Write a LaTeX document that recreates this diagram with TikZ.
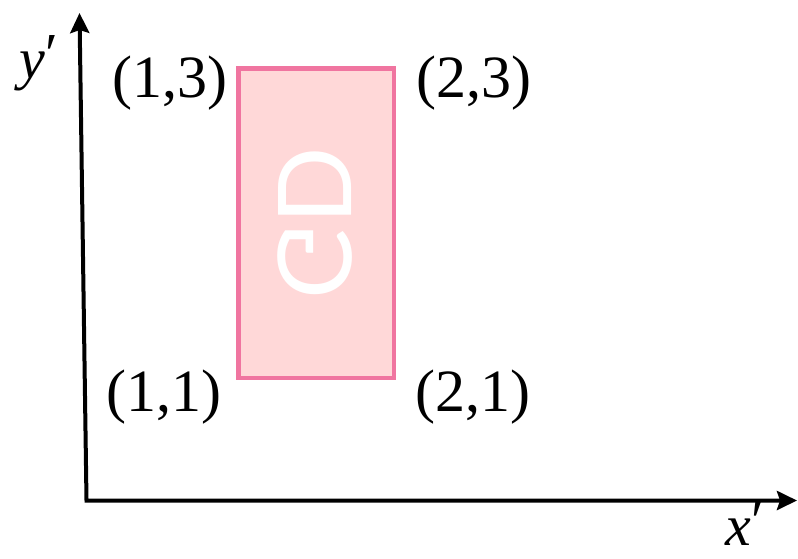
\documentclass[tikz,border=0pt]{standalone}
\usepackage{fontspec}
\setmainfont{Liberation Serif}
\newfontfamily\gdfont{Lato}
\usetikzlibrary{arrows.meta}
\definecolor{rectedge}{RGB}{240,117,160}
\definecolor{rectfill}{RGB}{255,216,216}
\tikzset{
  axisline/.style={line width=4pt, line join=miter,
    {Stealth[length=20pt, width=19pt, inset=3pt]}-{Stealth[length=20pt, width=19pt, inset=3pt]}},
  corner/.style={font=\fontsize{60}{62}\selectfont, inner sep=0pt, anchor=base},
  axislabel/.style={font=\fontsize{58}{60}\selectfont\itshape, inner sep=0pt, anchor=base},
  rectbox/.style={draw=rectedge, fill=rectfill, line width=4.5pt, inner sep=0pt,
    minimum width=155.5pt, minimum height=309.5pt},
  gdtext/.style={font=\gdfont\fontsize{102}{102}\selectfont, text=white, inner sep=0pt}
}
\begin{document}
\begin{tikzpicture}[x=1pt, y=-1pt]
\useasboundingbox (0,0) rectangle (798,558);
\coordinate (O) at (86.5,500.5);
\coordinate (Y) at (79.5,13);
\coordinate (X) at (797,500.5);
\draw[axisline] (Y) -- (O) -- (X);
\node[rectbox] (r) at (316,223) {};
\begin{scope}[shift={(315,223)}, cm={0,1,1,0,(0,0)}, transform shape]
  \node[gdtext] (gd) at (0,0) {GD};
\end{scope}
\node[corner] (c13) at (169.5,97) {(1,3)};
\node[corner] (c23) at (474,97) {(2,3)};
\node[corner] (c11) at (164,411) {(1,1)};
\node[corner] (c21) at (473,411) {(2,1)};
\node[axislabel] (ly) at (39,78) {y\raisebox{5pt}{\upshape ′}};
\node[axislabel] (lx) at (745,545) {x\raisebox{5pt}{\upshape ′}};
\end{tikzpicture}
\end{document}
